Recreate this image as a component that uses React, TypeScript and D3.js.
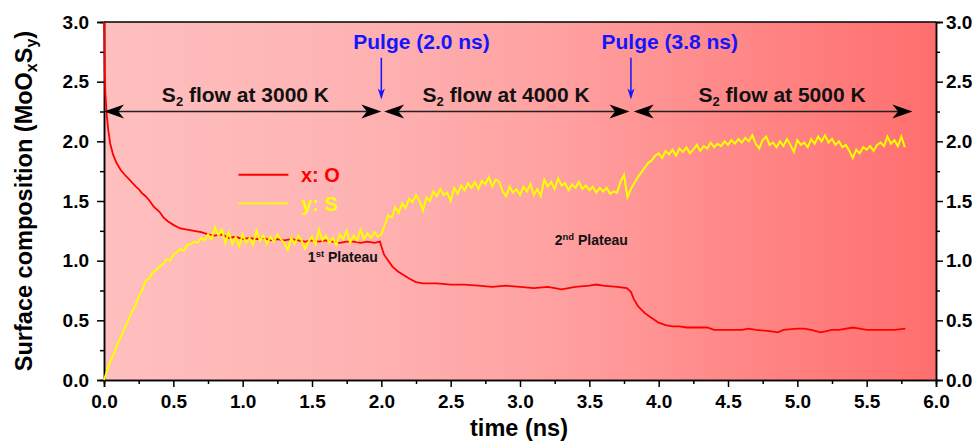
import React, { useRef, useEffect } from "react";
import * as d3 from "d3";

const width = 975;
const height = 442;
const margin = { top: 22, right: 39, bottom: 62, left: 104 };

// y: S, sampled every 0.025 ns starting at 0
const sulfurStep = 0.025;
const sulfur = [
  0, 0.09, 0.17, 0.23, 0.31, 0.37, 0.44, 0.5, 0.57, 0.62, 0.7, 0.75, 0.83, 0.85, 0.9, 0.92, 0.95, 0.97, 1.01, 1.0,
  1.05, 1.07, 1.1, 1.08, 1.13, 1.14, 1.16, 1.15, 1.19, 1.17, 1.22, 1.18, 1.28, 1.21, 1.26, 1.15, 1.24, 1.14, 1.2, 1.12,
  1.22, 1.15, 1.19, 1.13, 1.25, 1.17, 1.21, 1.14, 1.2, 1.16, 1.22, 1.18, 1.15, 1.09, 1.19, 1.14, 1.21, 1.17, 1.1, 1.16,
  1.2, 1.14, 1.26, 1.17, 1.21, 1.15, 1.19, 1.13, 1.22, 1.18, 1.25, 1.15, 1.21, 1.17, 1.26, 1.18, 1.23, 1.19, 1.24, 1.2,
  1.22, 1.3, 1.38, 1.36, 1.45, 1.4, 1.48, 1.44, 1.52, 1.49, 1.55, 1.5, 1.42, 1.53, 1.5, 1.58, 1.54, 1.6, 1.55, 1.57,
  1.5, 1.61, 1.56, 1.63, 1.59, 1.65, 1.61, 1.66, 1.6, 1.67, 1.64, 1.7, 1.62, 1.68, 1.66, 1.58, 1.54, 1.62, 1.57, 1.6,
  1.55, 1.62, 1.58, 1.64, 1.55, 1.6, 1.54, 1.68, 1.62, 1.66, 1.6, 1.69, 1.63, 1.65, 1.59, 1.64, 1.61, 1.66, 1.6, 1.63,
  1.59, 1.62, 1.57, 1.61, 1.58, 1.61, 1.56, 1.58, 1.57, 1.66, 1.72, 1.53, 1.6, 1.65, 1.7, 1.74, 1.78, 1.82, 1.84, 1.88,
  1.9, 1.86, 1.92, 1.89, 1.93, 1.88, 1.94, 1.91, 1.95, 1.9, 1.93, 1.97, 1.92, 1.96, 1.94, 1.99, 1.95, 1.98, 1.96, 2.0,
  1.97, 2.01, 1.98, 2.02, 1.99, 2.03, 2.0, 2.05, 1.98, 1.94, 2.01, 2.04, 1.97, 1.99, 1.95, 2.0, 1.96, 2.02, 1.97, 1.91,
  2.01, 1.97, 1.99, 1.95, 2.02, 1.98, 2.04, 2.0, 2.05, 1.99, 2.02, 1.97, 2.0, 1.95, 1.97, 1.92, 1.86, 1.93, 1.9, 1.95,
  1.93, 1.96, 1.92, 1.97, 1.99, 1.96, 2.04, 1.98, 2.01, 1.96, 2.04, 1.95,
];

// x: O as [time, value]
const oxygen = [
  [0, 3.0], [0.005, 2.6], [0.01, 2.4], [0.02, 2.22], [0.03, 2.1], [0.045, 1.98], [0.065, 1.89], [0.09, 1.82],
  [0.12, 1.76], [0.15, 1.72], [0.19, 1.67], [0.23, 1.62], [0.25, 1.6], [0.27, 1.57], [0.3, 1.54], [0.33, 1.5],
  [0.36, 1.45], [0.4, 1.41], [0.43, 1.36], [0.46, 1.33], [0.5, 1.3], [0.55, 1.27], [0.6, 1.26], [0.65, 1.25],
  [0.7, 1.24], [0.75, 1.22], [0.8, 1.21], [0.85, 1.22], [0.9, 1.19], [0.95, 1.2], [1.0, 1.18], [1.05, 1.19],
  [1.1, 1.18], [1.15, 1.19], [1.2, 1.17], [1.25, 1.18], [1.3, 1.17], [1.35, 1.18], [1.4, 1.17], [1.45, 1.16],
  [1.5, 1.17], [1.55, 1.16], [1.6, 1.17], [1.65, 1.16], [1.7, 1.15], [1.75, 1.16], [1.8, 1.16], [1.85, 1.15],
  [1.9, 1.16], [1.95, 1.15], [1.99, 1.16], [2.0, 1.12], [2.02, 1.05], [2.05, 1.0], [2.08, 0.95], [2.12, 0.91],
  [2.16, 0.88], [2.2, 0.85], [2.25, 0.82], [2.3, 0.81], [2.4, 0.81], [2.5, 0.8], [2.6, 0.8], [2.7, 0.79],
  [2.8, 0.78], [2.9, 0.79], [3.0, 0.78], [3.1, 0.77], [3.2, 0.78], [3.3, 0.76], [3.4, 0.78], [3.5, 0.79],
  [3.55, 0.8], [3.6, 0.79], [3.7, 0.78], [3.77, 0.77], [3.8, 0.74], [3.82, 0.68], [3.85, 0.62], [3.9, 0.56],
  [3.95, 0.52], [4.0, 0.48], [4.05, 0.46], [4.1, 0.45], [4.15, 0.45], [4.2, 0.44], [4.3, 0.44], [4.35, 0.44],
  [4.4, 0.42], [4.5, 0.42], [4.6, 0.42], [4.65, 0.43], [4.7, 0.42], [4.8, 0.41], [4.86, 0.4], [4.9, 0.42],
  [5.0, 0.43], [5.05, 0.43], [5.1, 0.42], [5.17, 0.4], [5.25, 0.42], [5.3, 0.42], [5.4, 0.44], [5.45, 0.43],
  [5.5, 0.42], [5.6, 0.42], [5.7, 0.42], [5.78, 0.43],
];

const xMajor = [0, 0.5, 1, 1.5, 2, 2.5, 3, 3.5, 4, 4.5, 5, 5.5, 6];
const xMinor = [0.25, 0.75, 1.25, 1.75, 2.25, 2.75, 3.25, 3.75, 4.25, 4.75, 5.25, 5.75];
const yMajor = [0, 0.5, 1, 1.5, 2, 2.5, 3];
const yMinor = [0.25, 0.75, 1.25, 1.75, 2.25, 2.75];

// stages: [start, end, label temperature, label centre]
const flows = [
  [0, 2.0, "3000 K", 1.02],
  [2.02, 3.79, "4000 K", 2.9],
  [3.82, 5.83, "5000 K", 4.89],
];
const flowLevel = 2.25;
const pulges = [
  [2.0, "Pulge (2.0 ns)", 2.29],
  [3.8, "Pulge (3.8 ns)", 4.08],
];

const FONT = "'Liberation Sans', Arial, sans-serif";

const App = () => {
  const ref = useRef(null);

  useEffect(() => {
    const svg = d3.select(ref.current);
    svg.selectAll("*").remove();

    const innerWidth = width - margin.left - margin.right;
    const innerHeight = height - margin.top - margin.bottom;

    const x = d3.scaleLinear().domain([0, 6]).range([0, innerWidth]);
    const y = d3.scaleLinear().domain([0, 3]).range([innerHeight, 0]);

    const defs = svg.append("defs");
    const grad = defs.append("linearGradient").attr("id", "bg").attr("x1", "0").attr("x2", "1").attr("y1", "0").attr("y2", "0");
    [
      [0, "#ffbfbf"],
      [0.3, "#feb3b3"],
      [0.55, "#ffa0a0"],
      [0.72, "#ff8c8c"],
      [1, "#ff6e6e"],
    ].forEach(([o, c]) => grad.append("stop").attr("offset", o).attr("stop-color", c));

    const g = svg.append("g").attr("transform", `translate(${margin.left},${margin.top})`);

    g.append("rect").attr("width", innerWidth).attr("height", innerHeight).attr("fill", "url(#bg)");

    // axes
    const styleAxis = (sel) => {
      sel.selectAll("text").attr("font-family", FONT).attr("font-weight", "bold").attr("font-size", 19).attr("fill", "#000");
      sel.selectAll("line").attr("stroke", "#000").attr("stroke-width", 1.5);
      sel.select(".domain").attr("stroke", "#000").attr("stroke-width", 1.5);
    };
    const fmt = d3.format(".1f");

    g.append("g").call(d3.axisLeft(y).tickValues(yMinor).tickSize(4).tickFormat(() => "")).call(styleAxis);
    g.append("g").call(d3.axisLeft(y).tickValues(yMajor).tickSize(7).tickPadding(8).tickFormat(fmt)).call(styleAxis);

    const right = g.append("g").attr("transform", `translate(${innerWidth},0)`);
    right.append("g").call(d3.axisRight(y).tickValues(yMinor).tickSize(4).tickFormat(() => "")).call(styleAxis);
    right.append("g").call(d3.axisRight(y).tickValues(yMajor).tickSize(7).tickPadding(3).tickFormat(fmt)).call(styleAxis);

    const bottom = g.append("g").attr("transform", `translate(0,${innerHeight})`);
    bottom.append("g").call(d3.axisBottom(x).tickValues(xMinor).tickSize(4).tickFormat(() => "")).call(styleAxis);
    bottom.append("g").call(d3.axisBottom(x).tickValues(xMajor).tickSize(7).tickPadding(8).tickFormat(fmt)).call(styleAxis);

    g.append("line").attr("x1", 0).attr("x2", innerWidth).attr("y1", 0).attr("y2", 0).attr("stroke", "#000").attr("stroke-width", 1.5);

    // series
    const lineGen = d3.line().x((d) => x(d[0])).y((d) => y(d[1]));
    const sulfurPts = sulfur.map((v, i) => [i * sulfurStep, v]);

    g.append("path").attr("d", lineGen(oxygen)).attr("fill", "none").attr("stroke", "#ff0000").attr("stroke-width", 1.8);
    g.append("path").attr("d", lineGen(sulfurPts)).attr("fill", "none").attr("stroke", "#ffff00").attr("stroke-width", 2);

    // flow arrows
    const head = (tipX, tipY, dir, L, W) =>
      `M${tipX},${tipY}L${tipX - dir * L},${tipY - W}L${tipX - dir * L * 0.72},${tipY}L${tipX - dir * L},${tipY + W}Z`;

    flows.forEach(([a, b, label, c]) => {
      const yy = y(flowLevel);
      g.append("line").attr("x1", x(a) + 4).attr("x2", x(b) - 4).attr("y1", yy).attr("y2", yy).attr("stroke", "#222").attr("stroke-width", 1.6);
      g.append("path").attr("d", head(x(a), yy, -1, 20, 7)).attr("fill", "#000");
      g.append("path").attr("d", head(x(b), yy, 1, 20, 7)).attr("fill", "#000");
      const t = g.append("text").attr("x", x(c)).attr("y", y(2.33)).attr("text-anchor", "middle")
        .attr("font-family", FONT).attr("font-weight", "bold").attr("font-size", 21).attr("fill", "#111");
      t.append("tspan").text("S");
      t.append("tspan").attr("font-size", 13).attr("dy", 4).text("2");
      t.append("tspan").attr("dy", -4).text(` flow at ${label}`);
    });

    // pulge arrows
    pulges.forEach(([at, label, c]) => {
      const xx = x(at);
      g.append("line").attr("x1", xx).attr("x2", xx).attr("y1", y(2.7)).attr("y2", y(2.35) - 6).attr("stroke", "#1515ff").attr("stroke-width", 1.5);
      g.append("path").attr("d", `M${xx},${y(2.35)}L${xx - 3.5},${y(2.35) - 11}L${xx},${y(2.35) - 8}L${xx + 3.5},${y(2.35) - 11}Z`).attr("fill", "#1515ff");
      g.append("text").attr("x", x(c)).attr("y", y(2.77)).attr("text-anchor", "middle")
        .attr("font-family", FONT).attr("font-weight", "bold").attr("font-size", 21).attr("fill", "#1515ff").text(label);
    });

    // plateau labels
    const plateau = (t0, v0, num, sup) => {
      const t = g.append("text").attr("x", x(t0)).attr("y", y(v0))
        .attr("font-family", FONT).attr("font-weight", "bold").attr("font-size", 14).attr("fill", "#111");
      t.append("tspan").text(num);
      t.append("tspan").attr("font-size", 9.5).attr("dy", -5).text(sup);
      t.append("tspan").attr("dy", 5).text(" Plateau");
    };
    plateau(1.47, 0.99, "1", "st");
    plateau(3.25, 1.13, "2", "nd");

    // legend
    const legend = [
      ["x: O", "#ff0000", 1.72, 1.66],
      ["y: S", "#ffff00", 1.48, 1.42],
    ];
    legend.forEach(([label, color, lv, tv]) => {
      g.append("line").attr("x1", x(0.97)).attr("x2", x(1.33)).attr("y1", y(lv)).attr("y2", y(lv)).attr("stroke", color).attr("stroke-width", 1.8);
      g.append("text").attr("x", x(1.42)).attr("y", y(tv)).attr("font-family", FONT).attr("font-weight", "bold")
        .attr("font-size", 20).attr("fill", color).text(label);
    });

    // axis titles
    svg.append("text").attr("x", margin.left + innerWidth / 2 - 1).attr("y", 436).attr("text-anchor", "middle")
      .attr("font-family", FONT).attr("font-weight", "bold").attr("font-size", 23.5).attr("fill", "#000").text("time (ns)");

    const yl = svg.append("text").attr("transform", `translate(32,${margin.top + innerHeight / 2}) rotate(-90)`)
      .attr("text-anchor", "middle").attr("font-family", FONT).attr("font-weight", "bold").attr("font-size", 23.5).attr("fill", "#000");
    yl.append("tspan").text("Surface composition (MoO");
    yl.append("tspan").attr("font-size", 16).attr("dy", 5).text("x");
    yl.append("tspan").attr("dy", -5).text("S");
    yl.append("tspan").attr("font-size", 16).attr("dy", 5).text("y");
    yl.append("tspan").attr("dy", -5).text(")");
  }, []);

  return (
    <svg ref={ref} width={width} height={height} style={{ position: "absolute", left: 0, top: 0, background: "#fff" }} />
  );
};

export default App;
